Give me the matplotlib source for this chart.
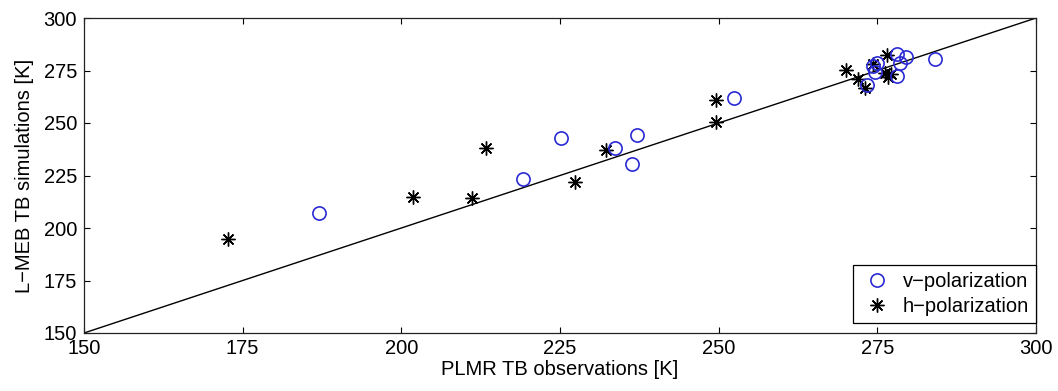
import matplotlib
matplotlib.use("Agg")
import matplotlib.pyplot as plt

plt.rcParams['font.family'] = ['Liberation Sans', 'DejaVu Sans']

# v-polarization: observations (x) and simulations (y)
v_obs = [187.0, 219.2, 225.1, 233.6, 236.3, 237.2, 252.4, 273.3, 274.3, 274.6,
         275.0, 278.1, 278.6, 278.1, 279.5, 284.1]
v_sim = [207.0, 223.5, 242.7, 237.9, 230.3, 244.3, 262.0, 268.1, 277.1, 274.4,
         278.4, 272.4, 278.4, 282.9, 281.6, 280.6]

# h-polarization
h_obs = [172.7, 201.9, 211.2, 213.3, 227.3, 232.3, 249.6, 249.6, 270.1, 272.0,
         273.0, 274.3, 276.2, 276.6, 276.7, 277.2]
h_sim = [194.8, 214.6, 214.1, 237.9, 222.1, 237.1, 261.0, 250.3, 275.2, 270.8,
         266.5, 278.0, 274.0, 282.4, 272.1, 273.3]

one_to_one = [150, 300]
ticks = [150, 175, 200, 225, 250, 275, 300]

FS = 14.5

fig = plt.figure(figsize=(10.58, 3.91), dpi=100)
ax = fig.add_axes([84/1058, 1 - 333/391, (1036-84)/1058, (333-18)/391])

ax.plot(one_to_one, one_to_one, color='black', lw=1.0, zorder=1)
ax.plot(v_obs, v_sim, linestyle='none', marker='o', ms=9.5, mfc='none',
        mec='#2a2ad4', mew=1.2, label='v\u2212polarization', zorder=3)
ax.plot(h_obs, h_sim, linestyle='none', marker=(8, 2, 0), ms=10,
        color='black', mec='black', mew=1.0, label='h\u2212polarization', zorder=2)

ax.set_xlim(150, 300)
ax.set_ylim(150, 300)
ax.set_xticks(ticks)
ax.set_yticks(ticks)
ax.tick_params(direction='in', top=True, right=True, labelsize=FS,
               length=4.5, width=0.8)
ax.tick_params(axis='x', pad=4.5)
ax.tick_params(axis='y', pad=5)
for s in ax.spines.values():
    s.set_linewidth(0.9)
    s.set_color('#222222')

ax.set_xlabel('PLMR TB observations [K]', fontsize=FS, labelpad=1)
ax.set_ylabel('L\u2212MEB TB simulations [K]', fontsize=FS, labelpad=7)

leg = ax.legend(loc='lower right', bbox_to_anchor=(1.0, 10/315), fontsize=FS,
                frameon=True, fancybox=False, edgecolor='black', framealpha=1,
                borderpad=0.35, handletextpad=0.5, labelspacing=0.3,
                handlelength=1.6, borderaxespad=0)
leg.get_frame().set_linewidth(0.9)

fig.savefig('out.png', dpi=100)
